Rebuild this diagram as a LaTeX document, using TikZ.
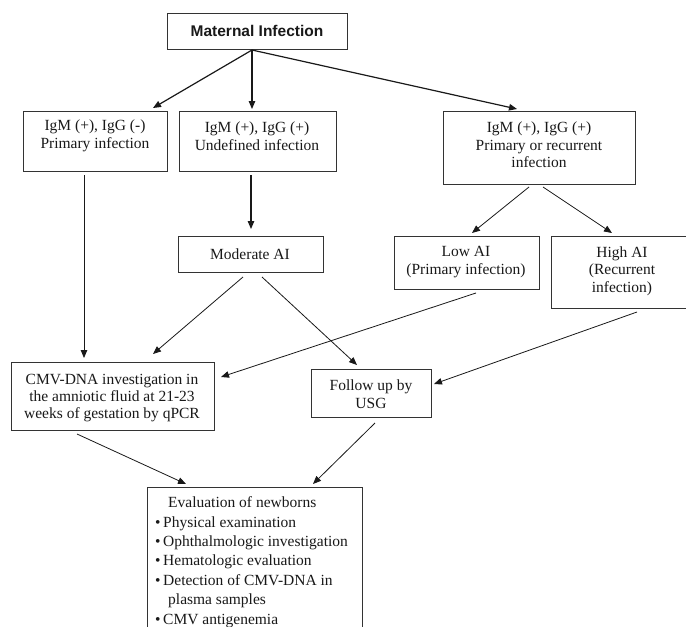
\documentclass[tikz,border=0pt]{standalone}
\usepackage{fontspec}
\setmainfont{Liberation Serif}
\newfontfamily\sansb{Liberation Sans}
\usetikzlibrary{arrows.meta}
\begin{document}
\begin{tikzpicture}[x=1pt,y=-1pt,
  box/.style={draw=black!80, line width=1.1pt, inner sep=0pt, anchor=north west},
  txt/.style={align=center, inner sep=0pt, text=black!90, font=\fontsize{15.5}{17.5}\selectfont},
  arr/.style={draw=black!90, line width=0.8pt, -{Triangle[length=8pt,width=6.5pt]}},
  arrb/.style={arr, line width=1.2pt},
  ln/.style={draw=black!90, line width=0.8pt}
  ]
\useasboundingbox (0,0) rectangle (686,627);
\clip (0,0) rectangle (686,627);
\fill[white] (0,0) rectangle (686,627);

% boxes
\node[box, minimum width=180pt, minimum height=36pt] (mat) at (167,13) {};
\node[box, minimum width=144pt, minimum height=60pt] (b1) at (23,111) {};
\node[box, minimum width=157pt, minimum height=60pt] (b2) at (179,111) {};
\node[box, minimum width=192pt, minimum height=73pt] (b3) at (443,111) {};
\node[box, minimum width=145pt, minimum height=36pt] (mod) at (178,236) {};
\node[box, minimum width=145pt, minimum height=53pt] (low) at (394,236) {};
\node[box, minimum width=150pt, minimum height=72pt] (high) at (551,236) {};
\node[box, minimum width=203pt, minimum height=68pt] (cmv) at (11,362) {};
\node[box, minimum width=120pt, minimum height=48pt] (fol) at (311,369) {};
\node[box, minimum width=215pt, minimum height=170pt] (ev) at (147,487) {};

% texts
\node[txt, font=\sansb\bfseries\fontsize{15.5}{17}\selectfont] (matt) at (257,31) {Maternal Infection};
\node[txt] (b1t) at (95,136) {IgM (+), IgG (-)\\Primary infection};
\node[txt] (b2t) at (257,136) {IgM (+), IgG (+)\\Undefined infection};
\node[txt] (b3t) at (539,145) {IgM (+), IgG (+)\\Primary or recurrent\\infection};
\node[txt] (modt) at (250,254) {Moderate AI};
\node[txt] (lowt) at (466,262) {Low AI\\(Primary infection)};
\node[txt] (hight) at (622,271) {High AI\\(Recurrent\\infection)};
\node[txt, font=\fontsize{15.5}{16.8}\selectfont] (cmvt) at (112,398) {CMV-DNA investigation in\\the amniotic fluid at 21-23\\weeks of gestation by qPCR};
\node[txt] (folt) at (371,394) {Follow up by\\USG};
\node[txt, align=left, anchor=north west, font=\fontsize{15.5}{19.4}\selectfont] (evt) at (155,496.5)
 {\hspace*{13pt}Evaluation of newborns\\
  \textbullet\,Physical examination\\
  \textbullet\,Ophthalmologic investigation\\
  \textbullet\,Hematologic evaluation\\
  \textbullet\,Detection of CMV-DNA in\\
  \hspace*{13pt}plasma samples\\
  \textbullet\,CMV antigenemia};

% connector end points
\coordinate (m0) at (252,50);
\coordinate (m1) at (153,108);
\coordinate (m2) at (252,109);
\coordinate (m3) at (517,109);
\coordinate (b1s) at (84,175);
\coordinate (b1e) at (84,358);
\coordinate (b2s) at (251,175);
\coordinate (b2e) at (251,229);
\coordinate (b3s1) at (529,187);
\coordinate (lowe) at (472,233);
\coordinate (b3s2) at (543,187);
\coordinate (highe) at (612,233);
\coordinate (mods1) at (243,277);
\coordinate (cmve1) at (153,354);
\coordinate (mods2) at (262,277);
\coordinate (fole1) at (357,365);
\coordinate (lows) at (476,293);
\coordinate (cmve2) at (221,377);
\coordinate (highs) at (637,312);
\coordinate (fole2) at (434,384);
\coordinate (cmvs) at (77,434);
\coordinate (eve1) at (186,484);
\coordinate (fols) at (375,423);
\coordinate (eve2) at (313,484);

% connectors
\draw[arrb] (m0) -- (m1);
\draw[arrb] (m0) -- (m2);
\draw[arrb] (m0) -- (m3);
\draw[arr] (b1s) -- (b1e);
\draw[arrb] (b2s) -- (b2e);
\draw[arr] (b3s1) -- (lowe);
\draw[arr] (b3s2) -- (highe);
\draw[arr] (mods1) -- (cmve1);
\draw[arr] (mods2) -- (fole1);
\draw[arr] (lows) -- (cmve2);
\draw[arr] (highs) -- (fole2);
\draw[arr] (cmvs) -- (eve1);
\draw[arr] (fols) -- (eve2);
\end{tikzpicture}
\end{document}
